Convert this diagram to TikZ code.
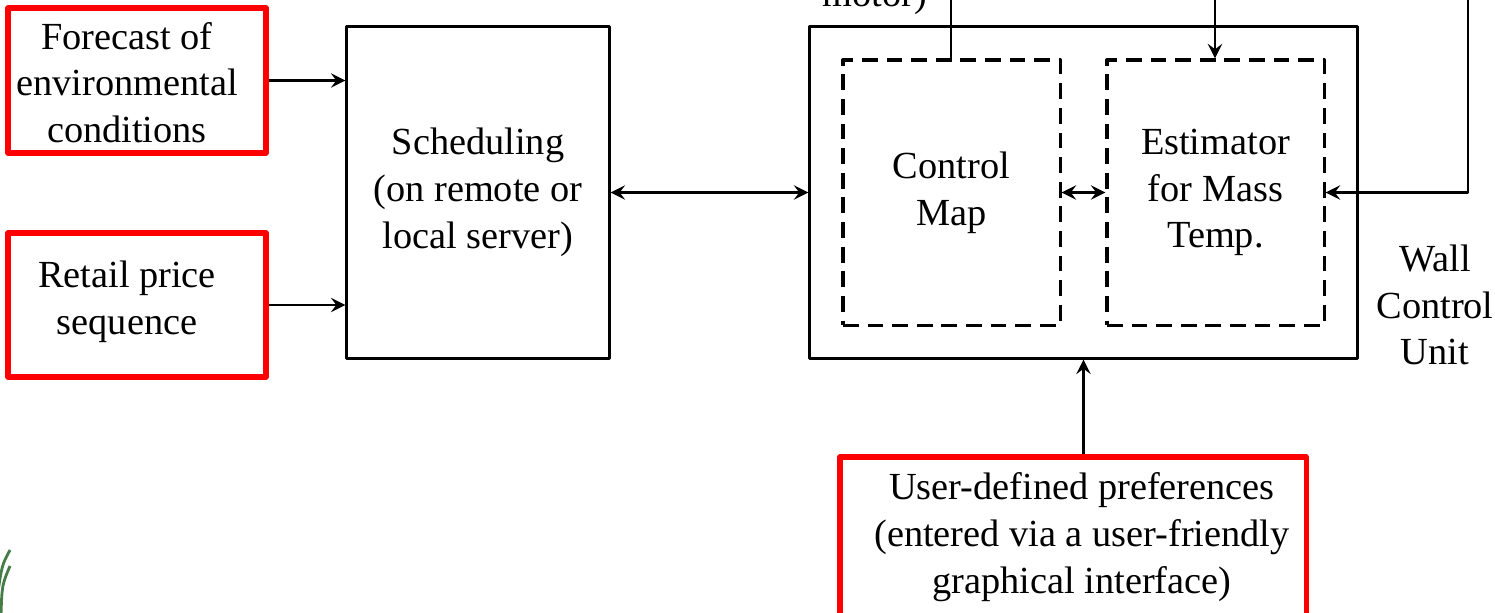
\documentclass[tikz,border=0pt]{standalone}
\usepackage{fontspec}
\setmainfont{Liberation Serif}
\definecolor{logogreen}{RGB}{70,125,70}
\begin{document}
\begin{tikzpicture}[x=0.01cm, y=-0.01cm, >=stealth, line join=round,
		every node/.style={font=\fontsize{10.9}{13.3}\selectfont, align=center, inner sep=0pt},
		blk/.style={draw, line width=0.85pt},
		src/.style={draw=red, line width=1.5pt},
		part/.style={draw, line width=0.9pt, dash pattern=on 4.5pt off 2.5pt},
		link/.style={line width=0.8pt}]
	\useasboundingbox (0,0) rectangle (1495,612);
	% inputs on the left
	\node[src, minimum width=2.58cm, minimum height=1.45cm,
		label={[xshift=-0.1cm, yshift=-0.02cm]center:Forecast of\\environmental\\conditions}] (fc) at (137,80.5) {};
	\node[src, minimum width=2.58cm, minimum height=1.44cm,
		label={[xshift=-0.1cm, yshift=0.035cm]center:Retail price\\sequence}] (rp) at (137,305) {};
	\node[blk, minimum width=2.62cm, minimum height=3.31cm] (sch) at (478,192.5) {Scheduling\\(on remote or\\local server)};
	% wall control unit
	\node[blk, minimum width=5.47cm, minimum height=3.31cm] (wcu) at (1083.5,192.5) {};
	\node[part, minimum width=2.17cm, minimum height=2.65cm] (cm) at (951.5,192.5) {Control\\Map};
	\node[part, minimum width=2.17cm, minimum height=2.65cm] (est) at (1215.5,192.5) {Estimator\\for Mass\\Temp.};
	\node (wcul) at (1435,305) {Wall\\Control\\Unit};
	\node[src, minimum width=4.66cm, minimum height=1.6cm,
		label={[xshift=0.09cm]center:User-defined preferences\\(entered via a user-friendly\\graphical interface)}] (ud) at (1073,537) {};
	\node[anchor=base] (mot) at (875,7) {motor)};
	\coordinate (in1) at (951,-5);
	\coordinate (in2) at (1215,-5);
	\coordinate (in3) at (1468,-5);
	% connectors
	\draw[link, ->] (fc.east) -- (fc.east -| sch.west);
	\draw[link, ->] (rp.east) -- (rp.east -| sch.west);
	\draw[link, <->] (sch.east) -- (wcu.west);
	\draw[link, <->] (cm.east) -- (est.west);
	\draw[link] (in1) -- (in1 |- cm.north);
	\draw[link, ->] (in2) -- (in2 |- est.north);
	\draw[link, ->] (in3) |- (est.east);
	\draw[link, ->] (wcu.south |- ud.north) -- (wcu.south);
	% logo edge
	\draw[logogreen, line width=0.8pt] (10,550) .. controls (2,565) .. (-2,592);
	\draw[logogreen, line width=0.8pt] (10,566) .. controls (2,585) .. (1,615);
\end{tikzpicture}
\end{document}
